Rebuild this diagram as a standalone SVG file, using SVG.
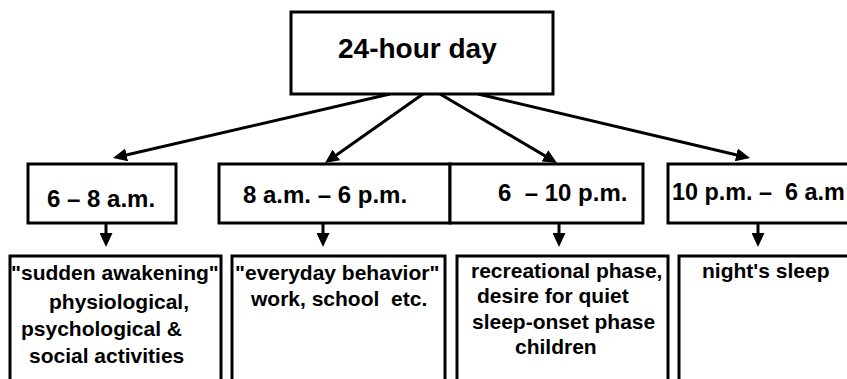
<svg xmlns="http://www.w3.org/2000/svg" width="847" height="379" viewBox="0 0 847 379">
  <style>
    .box { fill: #ffffff; stroke: #000000; stroke-width: 3; }
    .t { font-family: "Liberation Sans", Arial, sans-serif; font-weight: bold; fill: #000000; }
    .big { font-size: 28px; }
    .mid { font-size: 24px; }
    .small { font-size: 21px; }
    .conn { stroke: #000000; stroke-width: 3; fill: none; marker-end: url(#arrow); }
  </style>
  <defs>
    <marker id="arrow" markerUnits="userSpaceOnUse" markerWidth="14" markerHeight="13" refX="6" refY="6.5" orient="auto">
      <path d="M0,0 L14,6.5 L0,13 z" fill="#000000"/>
    </marker>
  </defs>
  <rect width="847" height="379" fill="#ffffff"/>

  <g id="connectors">
    <line class="conn" x1="390" y1="94" x2="120.8" y2="156.2"/>
    <line class="conn" x1="423" y1="94" x2="331.5" y2="158.4"/>
    <line class="conn" x1="440" y1="94" x2="550.1" y2="158.9"/>
    <line class="conn" x1="478" y1="94" x2="742.2" y2="156.2"/>
    <line class="conn" x1="106" y1="223" x2="106" y2="239"/>
    <line class="conn" x1="323" y1="223" x2="323" y2="239"/>
    <line class="conn" x1="559" y1="223" x2="559" y2="239"/>
    <line class="conn" x1="758" y1="223" x2="758" y2="239"/>
  </g>

  <g id="day">
    <rect class="box" x="291" y="12" width="262" height="82"/>
    <text class="t big" x="338" y="58">24-hour day</text>
  </g>

  <g id="p1">
    <rect class="box" x="28" y="164" width="148" height="59"/>
    <text class="t mid" x="47" y="207">6 – 8 a.m.</text>
  </g>
  <g id="p2">
    <rect class="box" x="219" y="164" width="231" height="59"/>
    <text class="t mid" x="243" y="203">8 a.m. – 6 p.m.</text>
  </g>
  <g id="p3">
    <rect class="box" x="450" y="164" width="193" height="59"/>
    <text class="t mid" x="498" y="201" xml:space="preserve">6  – 10 p.m.</text>
  </g>
  <g id="p4">
    <rect class="box" x="668" y="164" width="200" height="59"/>
    <text class="t" x="672" y="200" font-size="23.4" xml:space="preserve">10 p.m. –  6 a.m</text>
  </g>

  <g id="d1">
    <rect class="box" x="10" y="256" width="211" height="140"/>
    <text class="t small" x="11" y="280">"sudden awakening"</text>
    <text class="t small" x="49" y="309">physiological,</text>
    <text class="t small" x="21" y="336">psychological &amp;</text>
    <text class="t small" x="29" y="363">social activities</text>
  </g>
  <g id="d2">
    <rect class="box" x="232" y="256" width="213" height="140"/>
    <text class="t small" x="235" y="280">"everyday behavior"</text>
    <text class="t small" x="251" y="306" xml:space="preserve">work, school  etc.</text>
  </g>
  <g id="d3">
    <rect class="box" x="457" y="256" width="211" height="140"/>
    <text class="t small" x="471" y="278">recreational phase,</text>
    <text class="t small" x="477" y="303">desire for quiet</text>
    <text class="t small" x="472" y="329">sleep-onset phase</text>
    <text class="t small" x="515" y="354">children</text>
  </g>
  <g id="d4">
    <rect class="box" x="679" y="256" width="200" height="140"/>
    <text class="t small" x="702" y="278">night's sleep</text>
  </g>
</svg>
